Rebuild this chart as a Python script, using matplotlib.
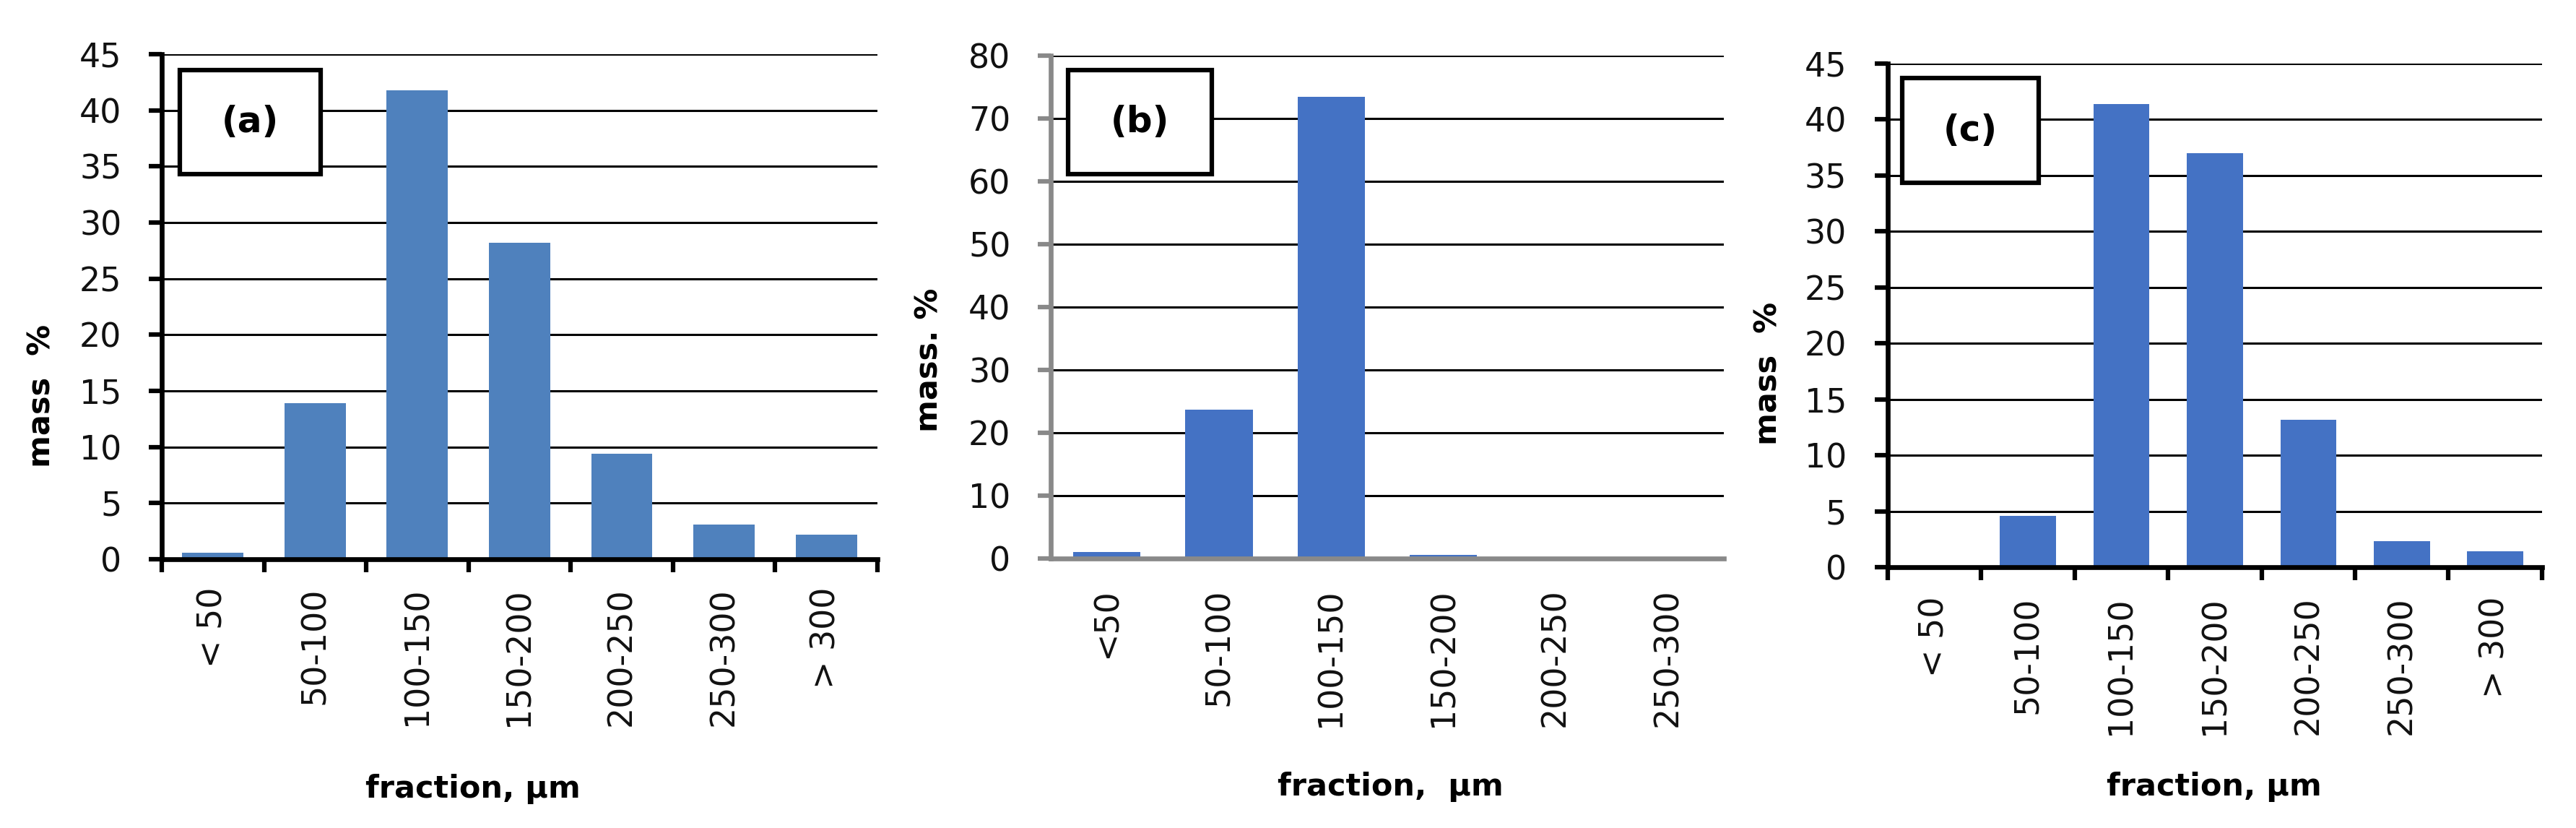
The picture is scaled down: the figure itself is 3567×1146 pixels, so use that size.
import numpy as np
import matplotlib
matplotlib.use("Agg")
import matplotlib.pyplot as plt
from matplotlib.patches import Rectangle

# data
cats_a = ['< 50', '50-100', '100-150', '150-200', '200-250', '250-300', '> 300']
mass_a = [0.6, 13.9, 41.8, 28.2, 9.4, 3.1, 2.2]

cats_b = ['<50', '50-100', '100-150', '150-200', '200-250', '250-300']
mass_b = [1.0, 23.7, 73.4, 0.6, 0, 0]

cats_c = ['< 50', '50-100', '100-150', '150-200', '200-250', '250-300', '> 300']
mass_c = [0, 4.6, 41.4, 37.0, 13.2, 2.3, 1.4]

plt.rcParams['font.family'] = ['DejaVu Sans']

fig = plt.figure(figsize=(35.67, 11.46), dpi=100)


def panel(rect, cats, vals, color, ymax, ystep, axcol, xticks, tag, boxpos,
          ylab, ylabpos, xlab, xlabpos, xpad, ypad):
    ax = fig.add_axes(rect)
    n = len(cats)
    x = np.arange(n)
    ax.bar(x, vals, width=0.6, color=color, zorder=2)
    ax.set_xlim(-0.5, n - 0.5)
    ax.set_ylim(0, ymax)
    ax.set_yticks(np.arange(0, ymax + 1, ystep))
    ax.yaxis.grid(True, color='black', lw=2.2)
    ax.set_axisbelow(True)
    for s in ['top', 'right']:
        ax.spines[s].set_visible(False)
    for s in ['left', 'bottom']:
        ax.spines[s].set_color(axcol)
        ax.spines[s].set_linewidth(4.8)
    # excel style: ticks between categories, labels at centres
    ax.set_xticks(np.arange(n + 1) - 0.5)
    ax.set_xticklabels([])
    ax.set_xticks(x, minor=True)
    ax.set_xticklabels(cats, minor=True, rotation=90, fontsize=33, color='#111111')
    ax.tick_params(axis='x', which='minor', length=0, pad=xpad)
    if xticks:
        ax.tick_params(axis='x', which='major', direction='out', length=13,
                       width=4.5, color=axcol)
    else:
        ax.tick_params(axis='x', which='major', length=0)
    ax.tick_params(axis='y', direction='out', length=13, width=4.5, color=axcol,
                   labelsize=33, labelcolor='#111111', pad=ypad)

    ax.set_ylabel(ylab, fontsize=31, fontweight='bold')
    ax.yaxis.set_label_coords(*ylabpos)
    ax.yaxis.label.set_va('center')
    ax.set_xlabel(xlab, fontsize=31, fontweight='bold')
    ax.xaxis.set_label_coords(*xlabpos)
    ax.xaxis.label.set_va('center')

    x0, y0, x1, y1 = boxpos
    ax.add_patch(Rectangle((x0, y0), x1 - x0, y1 - y0, transform=ax.transAxes,
                           facecolor='white', edgecolor='black', lw=4.5, zorder=3))
    ax.text((x0 + x1) / 2, (y0 + y1) / 2, tag, transform=ax.transAxes,
            ha='center', va='center', fontsize=36, fontweight='bold', zorder=4)
    return ax


panel([0.0628, 0.3246, 0.2778, 0.6099], cats_a, mass_a, '#4F81BD', 45, 5, 'black', True,
      '(a)', (0.025, 0.763, 0.222, 0.969),
      'mass  %', (-0.168, 0.323), 'fraction, µm', (0.435, -0.455), 28, 27)

panel([0.4079, 0.3255, 0.2613, 0.6073], cats_b, mass_b, '#4472C4', 80, 10, '#898989', False,
      '(b)', (0.026, 0.764, 0.239, 0.971),
      'mass. %', (-0.181, 0.394), 'fraction,  µm', (0.505, -0.454), 30, 27)

panel([0.7328, 0.3150, 0.2540, 0.6082], cats_c, mass_c, '#4472C4', 45, 5, 'black', True,
      '(c)', (0.022, 0.763, 0.231, 0.971),
      'mass  %', (-0.183, 0.385), 'fraction, µm', (0.499, -0.436), 29, 28)

fig.savefig('out.png', dpi=100, facecolor='white')
